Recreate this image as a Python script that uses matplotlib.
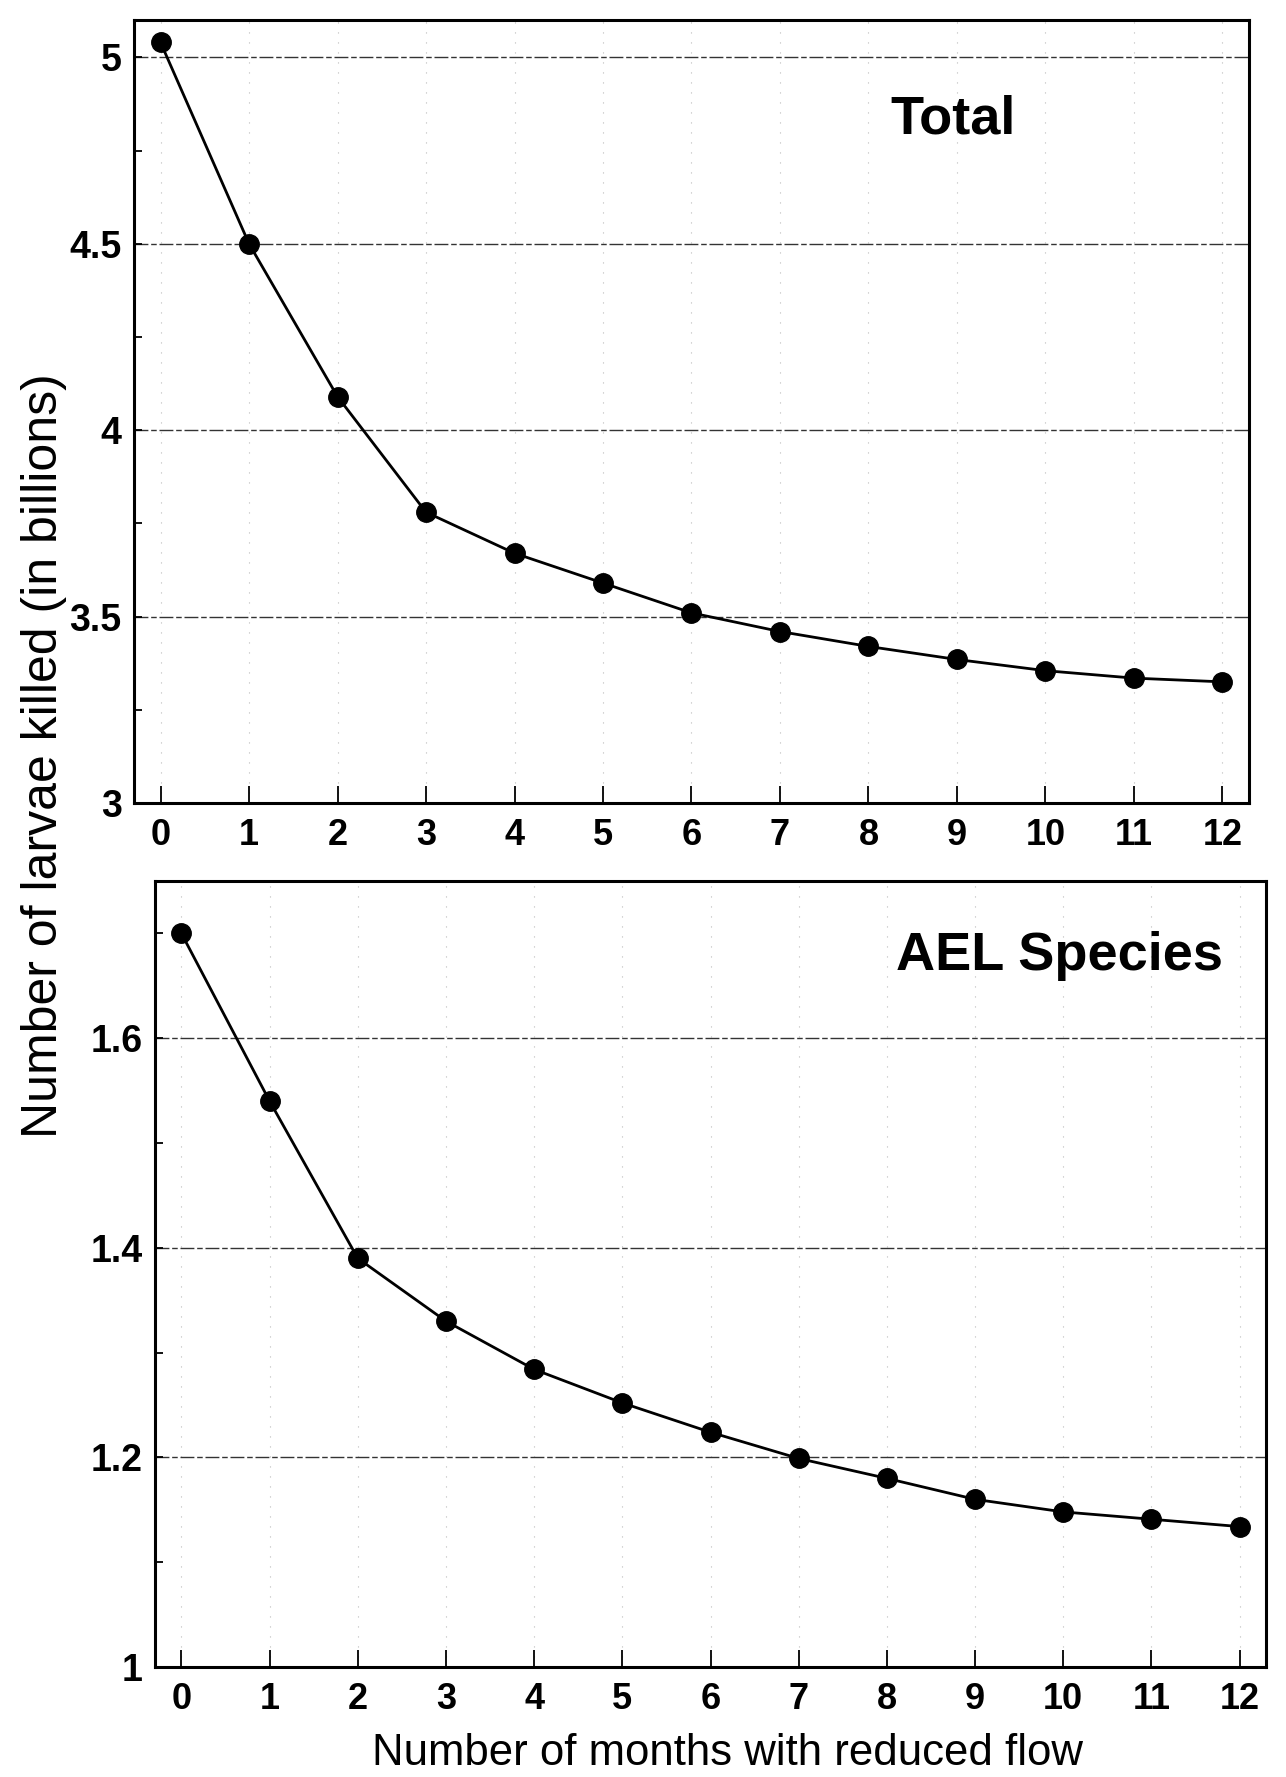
import matplotlib
matplotlib.use("Agg")
import matplotlib.pyplot as plt
from matplotlib.ticker import MultipleLocator

months = list(range(13))
total = [5.04, 4.50, 4.09, 3.78, 3.67, 3.59, 3.51, 3.46, 3.42, 3.385, 3.355, 3.335, 3.325]
ael = [1.70, 1.54, 1.39, 1.33, 1.284, 1.252, 1.224, 1.199, 1.18, 1.16, 1.148, 1.141, 1.134]

top_yticks = [3, 3.5, 4, 4.5, 5]
top_ylabels = ["3", "3.5", "4", "4.5", "5"]
bot_yticks = [1, 1.2, 1.4, 1.6]
bot_ylabels = ["1", "1.2", "1.4", "1.6"]

plt.rcParams['font.family'] = ['Liberation Sans', 'DejaVu Sans']

fig = plt.figure(figsize=(12.86, 17.77), dpi=100)
ax1 = fig.add_axes([0.1042, 0.5481, 0.867, 0.4406])
ax2 = fig.add_axes([0.1205, 0.0619, 0.864, 0.4423])


def style(ax, yticks, ylabels, ylim, minor_step, title, title_xy):
    ax.set_xlim(-0.3, 12.3)
    ax.set_ylim(*ylim)
    ax.set_xticks(months)
    ax.set_xticklabels([str(m) for m in months], fontsize=26, fontweight='bold')
    ax.set_yticks(yticks)
    ax.set_yticklabels(ylabels, fontsize=27, fontweight='bold')
    ax.yaxis.set_minor_locator(MultipleLocator(minor_step))
    ax.tick_params(axis='x', which='major', direction='in', length=12, width=1.3,
                   pad=11, top=False)
    ax.tick_params(axis='y', which='major', direction='in', length=6, width=1.3,
                   pad=9, right=False)
    ax.tick_params(axis='y', which='minor', direction='in', length=6, width=1.3,
                   right=False)
    for s in ax.spines.values():
        s.set_linewidth(2.2)
    for y in yticks[1:]:
        ax.axhline(y, color='#333333', lw=1.0, ls=(0, (10, 2, 4, 2)), zorder=1)
    for m in months:
        ax.axvline(m, color='#bbbbbb', lw=0.8, ls=(0, (1, 8)), zorder=0)
    ax.text(title_xy[0], title_xy[1], title, transform=fig.transFigure,
            fontsize=39, fontweight='bold', ha='center', va='baseline')


style(ax1, top_yticks, top_ylabels, (3, 5.1), 0.25, "Total", (953 / 1286, 1 - 134 / 1777))
style(ax2, bot_yticks, bot_ylabels, (1, 1.75), 0.1, "AEL Species", (1060 / 1286, 1 - 970 / 1777))

ax1.plot(months, total, color='black', lw=2.0, marker='o', markersize=14, zorder=3)
ax2.plot(months, ael, color='black', lw=2.0, marker='o', markersize=14, zorder=3)

fig.text(44 / 1286, 1 - 756 / 1777, "Number of larvae killed (in billions)",
         rotation=90, fontsize=36, ha='center', va='center')
fig.text(728 / 1286, 1 - 1765 / 1777, "Number of months with reduced flow",
         fontsize=31.5, ha='center', va='baseline')

fig.savefig("out.png", dpi=100)
